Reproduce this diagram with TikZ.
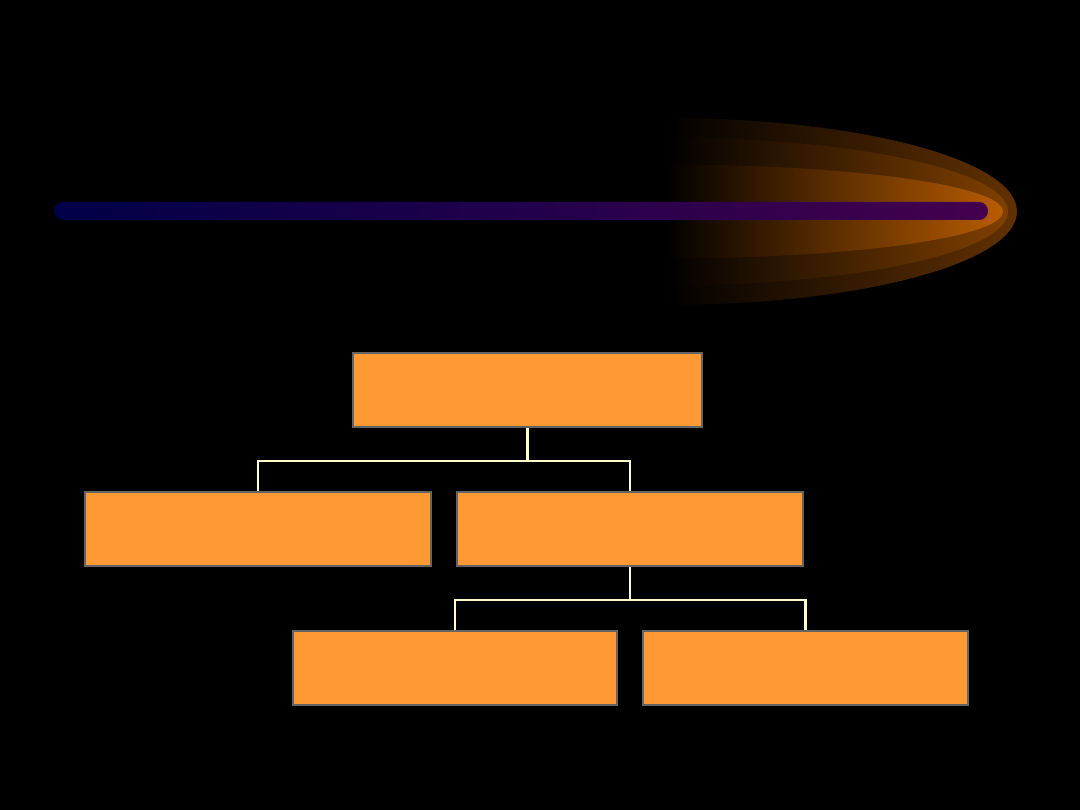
\documentclass[tikz,border=0pt]{standalone}
\usetikzlibrary{calc}
\definecolor{boxfill}{RGB}{255,153,51}
\definecolor{boxedge}{RGB}{100,100,100}
\definecolor{linkcol}{RGB}{255,255,204}
\definecolor{glowA}{RGB}{98,49,2}
\definecolor{glowB}{RGB}{128,64,0}
\definecolor{glowC}{RGB}{185,92,0}
\definecolor{barL}{RGB}{0,0,72}
\definecolor{barR}{RGB}{68,0,78}
\tikzset{
  orgbox/.style={draw=boxedge, line width=1.3pt, fill=boxfill, rectangle,
    minimum height=1.48cm, inner sep=0pt},
  link/.style={draw=linkcol, line width=1.5pt}
}
\begin{document}
\begin{tikzpicture}[x=0.02cm, y=-0.02cm]
\fill[black] (0,0) rectangle (1080,810);
\useasboundingbox (0,0) rectangle (1080,810);
% glow
\shade[left color=black, right color=glowA] (665,305) arc[start angle=90, end angle=-90, x radius=352, y radius=93.5] -- cycle;
\shade[left color=black, right color=glowB] (665,285.5) arc[start angle=90, end angle=-90, x radius=343, y radius=74] -- cycle;
\shade[left color=black, right color=glowC] (665,258.5) arc[start angle=90, end angle=-90, x radius=338, y radius=47] -- cycle;
% bar
\shade[left color=barL, right color=barR, rounded corners=0.18cm] (54,202) rectangle (988,220);
% boxes
\node[orgbox, minimum width=6.98cm] (b1) at (527.5,390) {};
\node[orgbox, minimum width=6.92cm] (b2) at (258,529) {};
\node[orgbox, minimum width=6.92cm] (b3) at (630,529) {};
\node[orgbox, minimum width=6.48cm] (b4) at (455,668) {};
\node[orgbox, minimum width=6.50cm] (b5) at (805.5,668) {};
% connectors
\coordinate (j1) at ($(b1.south)+(0,33)$);
\coordinate (j2) at ($(b3.south)+(0,33)$);
\draw[link] (b1.south) -- (j1);
\draw[link] (b2.north) |- (j1) -| (b3.north);
\draw[link] (b3.south) -- (j2);
\draw[link] (b4.north) |- (j2) -| (b5.north);
\end{tikzpicture}
\end{document}
